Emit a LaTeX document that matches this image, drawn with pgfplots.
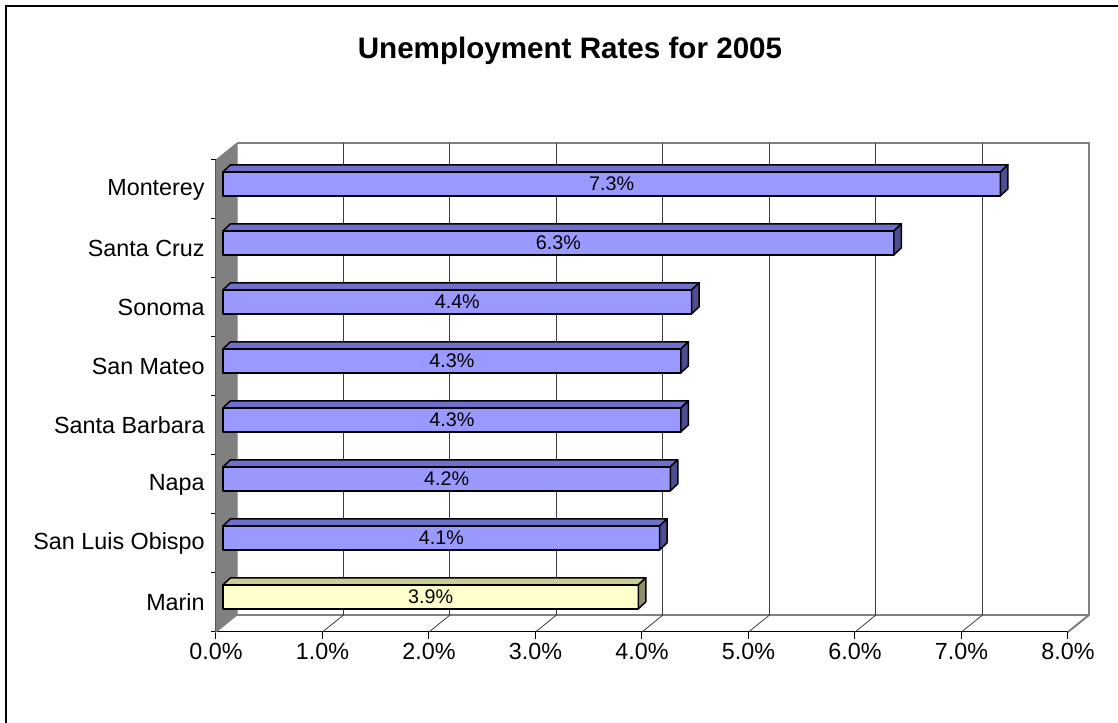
\documentclass[border=0pt]{standalone}
\usepackage{pgfplots}
\pgfplotsset{compat=1.18}
\usepackage{pgfplotstable}
\usepackage{fontspec}
\setmainfont{Liberation Sans}
\definecolor{barfront}{HTML}{9999FF}
\definecolor{bartop}{HTML}{7070CC}
\definecolor{barside}{HTML}{4D4D8F}
\definecolor{marfront}{HTML}{FFFFCC}
\definecolor{martop}{HTML}{CCCC99}
\definecolor{marside}{HTML}{8F8F6B}
\definecolor{wallgray}{HTML}{808080}
\definecolor{gridc}{HTML}{3C3C3C}

% index 0 = Marin (bottom) ... 7 = Monterey (top); values in percent
\pgfplotstableread{
idx v
0 3.9
1 4.1
2 4.2
3 4.3
4 4.3
5 4.4
6 6.3
7 7.3
}\datatable

\newcommand\lblfont{\fontsize{17.5pt}{20pt}\selectfont}
\newcommand\valfont{\fontsize{14.8pt}{17pt}\selectfont}

\begin{document}
\begin{tikzpicture}
\useasboundingbox (0,0) rectangle (838.5pt,542.25pt);
\draw[line width=1.1pt] (4.5pt,-3pt) -- (4.5pt,537.75pt) -- (842pt,537.75pt);
\node[font=\bfseries\fontsize{22.2pt}{26pt}\selectfont] at (427.5pt,504pt) {Unemployment Rates for 2005};
\begin{axis}[
  scale only axis, width=639pt, height=354pt,
  at={(162pt,68.25pt)}, anchor=south west,
  xmin=0, xmax=8, ymin=0, ymax=8,
  axis lines*=left,
  axis line style={black, line width=0.75pt, -},
  clip=false,
  xtick={0,...,8},
  xticklabels={0.0\%,1.0\%,2.0\%,3.0\%,4.0\%,5.0\%,6.0\%,7.0\%,8.0\%},
  ytick={0.5,1.5,...,7.5},
  yticklabels={Marin,San Luis Obispo,Napa,Santa Barbara,San Mateo,Sonoma,Santa Cruz,Monterey},
  minor ytick={0,...,8},
  minor xtick={},
  tick align=outside,
  major tick length=5pt,
  minor tick length=3.5pt,
  major y tick style={draw=none},
  minor y tick style={black, line width=0.75pt},
  major x tick style={black, line width=0.75pt},
  tick label style={font=\lblfont, text=black},
  yticklabel style={anchor=east},
]
% side wall, back wall and floor
\addplot[fill=wallgray, draw=wallgray, line width=0.75pt, forget plot]
  coordinates {(0,0) (0.1972,0.2881) (0.1972,8.2881) (0,8)} --cycle;
\addplot[draw=wallgray, line width=1.5pt, forget plot]
  coordinates {(0.1972,8.2881) (8.1972,8.2881) (8.1972,0.2881) (0.1972,0.2881)};
\addplot[draw=wallgray, line width=1.5pt, forget plot]
  coordinates {(8,0) (8.1972,0.2881)};
% back-wall gridlines
\addplot[gridc, line width=0.75pt, forget plot] coordinates {(1.1972,0.2881) (1.1972,8.2881)};
\addplot[gridc, line width=0.75pt, forget plot] coordinates {(2.1972,0.2881) (2.1972,8.2881)};
\addplot[gridc, line width=0.75pt, forget plot] coordinates {(3.1972,0.2881) (3.1972,8.2881)};
\addplot[gridc, line width=0.75pt, forget plot] coordinates {(4.1972,0.2881) (4.1972,8.2881)};
\addplot[gridc, line width=0.75pt, forget plot] coordinates {(5.1972,0.2881) (5.1972,8.2881)};
\addplot[gridc, line width=0.75pt, forget plot] coordinates {(6.1972,0.2881) (6.1972,8.2881)};
\addplot[gridc, line width=0.75pt, forget plot] coordinates {(7.1972,0.2881) (7.1972,8.2881)};
% floor diagonals
\addplot[gridc, line width=0.6pt, forget plot] coordinates {(1,0) (1.1972,0.2881)};
\addplot[gridc, line width=0.6pt, forget plot] coordinates {(2,0) (2.1972,0.2881)};
\addplot[gridc, line width=0.6pt, forget plot] coordinates {(3,0) (3.1972,0.2881)};
\addplot[gridc, line width=0.6pt, forget plot] coordinates {(4,0) (4.1972,0.2881)};
\addplot[gridc, line width=0.6pt, forget plot] coordinates {(5,0) (5.1972,0.2881)};
\addplot[gridc, line width=0.6pt, forget plot] coordinates {(6,0) (6.1972,0.2881)};
\addplot[gridc, line width=0.6pt, forget plot] coordinates {(7,0) (7.1972,0.2881)};
% bars (front, top and side faces) with value labels
\pgfplotsinvokeforeach{0,...,7}{
  \pgfplotstablegetelem{#1}{v}\of\datatable
  \let\val\pgfplotsretval
  \pgfmathsetmacro\xa{0.0657}
  \pgfmathsetmacro\xb{\val+0.0657}
  \pgfmathsetmacro\xc{\val+0.0657+0.0704}
  \pgfmathsetmacro\xd{0.0657+0.0704}
  \pgfmathsetmacro\ya{#1+0.5+0.0961-0.2034}
  \pgfmathsetmacro\yb{#1+0.5+0.0961+0.2034}
  \pgfmathsetmacro\yc{#1+0.5+0.0961+0.2034+0.1186}
  \pgfmathsetmacro\yd{#1+0.5+0.0961-0.2034+0.1186}
  \pgfmathsetmacro\xm{\val/2+0.0657}
  \pgfmathsetmacro\ym{#1+0.5+0.0961}
  \ifnum#1=0 \def\cf{marfront}\def\ct{martop}\def\cs{marside}\else\def\cf{barfront}\def\ct{bartop}\def\cs{barside}\fi
  \edef\doit{%
    \noexpand\addplot[fill=\cf, draw=black, line width=1.1pt, line join=round, forget plot]
      coordinates {(\xa,\ya) (\xb,\ya) (\xb,\yb) (\xa,\yb)} --cycle;
    \noexpand\addplot[fill=\ct, draw=black, line width=1.1pt, line join=round, forget plot]
      coordinates {(\xa,\yb) (\xb,\yb) (\xc,\yc) (\xd,\yc)} --cycle;
    \noexpand\addplot[fill=\cs, draw=black, line width=1.1pt, line join=round, forget plot]
      coordinates {(\xb,\ya) (\xc,\yd) (\xc,\yc) (\xb,\yb)} --cycle;
    \noexpand\node[font=\noexpand\valfont, text=black] at (axis cs:\xm,\ym) {\val\noexpand\%};
  }\doit
}
\end{axis}
\end{tikzpicture}
\end{document}
